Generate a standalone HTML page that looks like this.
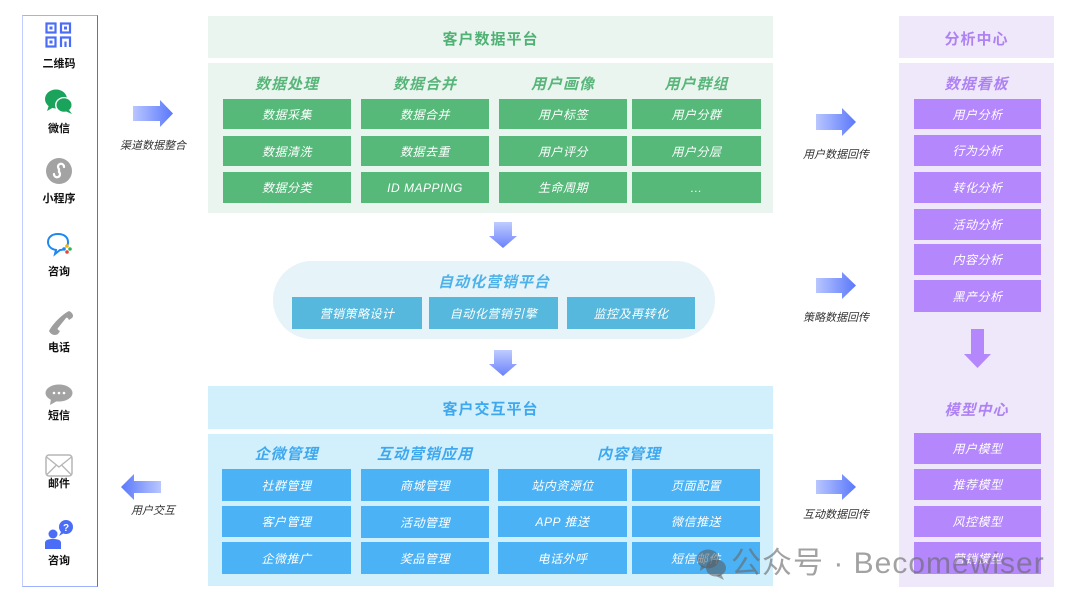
<!DOCTYPE html>
<html><head><meta charset="utf-8">
<style>
*{margin:0;padding:0;box-sizing:border-box}
body{width:1080px;height:607px;background:#fff;position:relative;overflow:hidden;font-family:"Liberation Sans","Noto Sans CJK SC",sans-serif}
.a{position:absolute}
.box{position:absolute;display:flex;align-items:center;justify-content:center;color:#fff;font-size:12px;font-style:italic;letter-spacing:0.5px}
.g{background:#56b97a}
.b{background:#4ab2f5}
.c{background:#56b8dd}
.p{background:#b487fd}
.hd{position:absolute;font-size:15px;font-weight:bold;font-style:italic;text-align:center;letter-spacing:1px}
.lbl{position:absolute;font-size:11px;font-weight:bold;color:#111;width:60px;text-align:center;left:29px}
.alb{position:absolute;font-size:11px;font-style:italic;color:#333;text-align:center;width:100px}
</style></head><body>

<!-- left panel -->
<div class="a" style="left:22px;top:15px;width:76px;height:572px;border:1.5px solid #4d6cff;border-left-color:#c2cdff;border-top-color:#9fb0ff;border-bottom-color:#9fb0ff"></div>

<!-- QR -->
<svg class="a" style="left:45px;top:22px" width="27" height="26" viewBox="0 0 27 26">
<g fill="none" stroke="#4a6cf7" stroke-width="2.2">
<rect x="1.5" y="1.5" width="9" height="9"/><rect x="16" y="1.5" width="9" height="9"/><rect x="1.5" y="15.5" width="9" height="9"/>
<path d="M16 25V15.5H25V25M20.5 19.5V25"/></g>
<g fill="#4a6cf7"><rect x="4.5" y="4.5" width="3" height="3"/><rect x="19" y="4.5" width="3" height="3"/><rect x="4.5" y="18.5" width="3" height="3"/></g>
</svg>
<div class="lbl" style="top:55px">二维码</div>

<!-- WeChat -->
<svg class="a" style="left:45px;top:89px" width="28" height="25" viewBox="0 0 28 25">
<ellipse cx="11" cy="10" rx="11" ry="9.5" fill="#1aa35a"/><path d="M4 16 L2 22 L9 18Z" fill="#1aa35a"/>
<ellipse cx="19" cy="16" rx="9" ry="8" fill="#fff"/>
<ellipse cx="19" cy="16" rx="7.5" ry="6.7" fill="#1aa35a"/><path d="M24 21 L27 25 L20 22Z" fill="#1aa35a"/>
</svg>
<div class="lbl" style="top:120px">微信</div>

<!-- mini program -->
<svg class="a" style="left:46px;top:158px" width="26" height="26" viewBox="0 0 26 26">
<circle cx="13" cy="13" r="13" fill="#a3a3a3"/>
<path d="M8 16 a3 3 0 1 0 5 -2 l0 -3 a3 3 0 1 1 5 -2" fill="none" stroke="#fff" stroke-width="2.2" stroke-linecap="round"/>
</svg>
<div class="lbl" style="top:190px">小程序</div>

<!-- 咨询 chat -->
<svg class="a" style="left:46px;top:232px" width="28" height="25" viewBox="0 0 28 25">
<path d="M12 2 C5 2 2 6 2 10 C2 14 5 17 10 18 L9 22 L14 18 C20 18 22 14 22 10 C22 6 19 2 12 2Z" fill="none" stroke="#1e88f0" stroke-width="2"/>
<path d="M21 14 L24 17 L21 20 L18 17Z" fill="#fff"/>
<circle cx="21" cy="14" r="1.8" fill="#f4b400"/><circle cx="24" cy="17" r="1.8" fill="#2db55d"/><circle cx="21" cy="20" r="1.8" fill="#ea4335"/><circle cx="18" cy="17" r="1.8" fill="#1e88f0"/>
</svg>
<div class="lbl" style="top:263px">咨询</div>

<!-- phone -->
<svg class="a" style="left:47px;top:309px" width="28" height="27" viewBox="0 0 28 27">
<path d="M22 2 C26 4 27 7 25 9 L22 11 C21 9 20 8 19 9 L11 19 C10 20 11 21 13 22 L11 25 C8 27 4 26 2 22 C5 16 14 6 22 2Z" fill="#9e9e9e"/>
</svg>
<div class="lbl" style="top:339px">电话</div>

<!-- sms -->
<svg class="a" style="left:45px;top:384px" width="28" height="22" viewBox="0 0 28 22">
<ellipse cx="14" cy="9" rx="13.5" ry="8.5" fill="#a3a3a3"/><path d="M6 15 L5 21 L12 17Z" fill="#a3a3a3"/>
<circle cx="9" cy="9" r="1.3" fill="#fff"/><circle cx="14" cy="9" r="1.3" fill="#fff"/><circle cx="19" cy="9" r="1.3" fill="#fff"/>
</svg>
<div class="lbl" style="top:407px">短信</div>

<!-- mail -->
<svg class="a" style="left:45px;top:454px" width="28" height="24" viewBox="0 0 28 24">
<rect x="1" y="1" width="26" height="21" rx="3" fill="#fff" stroke="#b5b5b5" stroke-width="1.5"/>
<path d="M1.5 3 L14 13 L26.5 3 M1.5 21 L11 11.5 M26.5 21 L17 11.5" fill="none" stroke="#b5b5b5" stroke-width="1.3"/>
</svg>
<div class="lbl" style="top:475px">邮件</div>

<!-- consult person -->
<svg class="a" style="left:45px;top:519px" width="30" height="30" viewBox="0 0 30 30">
<circle cx="21" cy="8" r="7" fill="#4a6cf7"/><path d="M16 13 L14 17 L19 14Z" fill="#4a6cf7"/>
<text x="21" y="12" font-size="10" font-weight="bold" fill="#fff" text-anchor="middle" font-family="Liberation Sans">?</text>
<circle cx="8" cy="15" r="4.5" fill="#4a6cf7"/><path d="M0 30 L0 24 C0 21 3 20 8 20 C13 20 16 21 16 24 L16 30Z" fill="#4a6cf7"/>
</svg>
<div class="lbl" style="top:552px">咨询</div>

<!-- gradient arrows -->
<svg class="a" style="left:0;top:0" width="1080" height="607">
<defs>
<linearGradient id="gr" x1="0" x2="1" y1="0" y2="0"><stop offset="0" stop-color="#b9c6ff"/><stop offset="1" stop-color="#5a78fb"/></linearGradient>
<linearGradient id="gl" x1="1" x2="0" y1="0" y2="0"><stop offset="0" stop-color="#b9c6ff"/><stop offset="1" stop-color="#5a78fb"/></linearGradient>
<linearGradient id="gd" x1="0" x2="0" y1="0" y2="1"><stop offset="0" stop-color="#c0cbff"/><stop offset="1" stop-color="#6a82fb"/></linearGradient>
</defs>
<polygon points="133,106 160,106 160,100 173,113.5 160,127 160,121 133,121" fill="url(#gr)"/>
<polygon points="161,481 134,481 134,474 121,487 134,500 134,493 161,493" fill="url(#gl)"/>
<polygon points="816,114 842,114 842,108 856,122 842,136 842,130 816,130" fill="url(#gr)"/>
<polygon points="816,278 842,278 842,272 856,285.5 842,299 842,293 816,293" fill="url(#gr)"/>
<polygon points="816,480 842,480 842,474 856,487 842,500 842,494 816,494" fill="url(#gr)"/>
<polygon points="494,222 512,222 512,236 517,236 503,248 489,236 494,236" fill="url(#gd)"/>
<polygon points="494,350 512,350 512,364 517,364 503,376 489,364 494,364" fill="url(#gd)"/>
</svg>
<div class="alb" style="left:103px;top:137px">渠道数据整合</div>
<div class="alb" style="left:103px;top:502px">用户交互</div>
<div class="alb" style="left:786px;top:146px">用户数据回传</div>
<div class="alb" style="left:786px;top:309px">策略数据回传</div>
<div class="alb" style="left:786px;top:506px">互动数据回传</div>

<!-- green platform -->
<div class="a" style="left:208px;top:16px;width:565px;height:42px;background:#ebf5f0"></div>
<div class="hd" style="left:208px;top:28px;width:565px;color:#4fb274;font-style:normal">客户数据平台</div>
<div class="a" style="left:208px;top:63px;width:565px;height:150px;background:#ebf5f0"></div>
<div class="hd" style="left:223px;top:73px;width:128px;color:#58b67a">数据处理</div>
<div class="hd" style="left:361px;top:73px;width:128px;color:#58b67a">数据合并</div>
<div class="hd" style="left:499px;top:73px;width:128px;color:#58b67a">用户画像</div>
<div class="hd" style="left:632px;top:73px;width:129px;color:#58b67a">用户群组</div>
<div class="box g" style="left:223px;top:99px;width:128px;height:30px">数据采集</div>
<div class="box g" style="left:223px;top:136px;width:128px;height:30px">数据清洗</div>
<div class="box g" style="left:223px;top:172px;width:128px;height:31px">数据分类</div>
<div class="box g" style="left:361px;top:99px;width:128px;height:30px">数据合并</div>
<div class="box g" style="left:361px;top:136px;width:128px;height:30px">数据去重</div>
<div class="box g" style="left:361px;top:172px;width:128px;height:31px">ID MAPPING</div>
<div class="box g" style="left:499px;top:99px;width:128px;height:30px">用户标签</div>
<div class="box g" style="left:499px;top:136px;width:128px;height:30px">用户评分</div>
<div class="box g" style="left:499px;top:172px;width:128px;height:31px">生命周期</div>
<div class="box g" style="left:632px;top:99px;width:129px;height:30px">用户分群</div>
<div class="box g" style="left:632px;top:136px;width:129px;height:30px">用户分层</div>
<div class="box g" style="left:632px;top:172px;width:129px;height:31px">...</div>

<!-- automation pill -->
<div class="a" style="left:273px;top:261px;width:442px;height:78px;background:#e6f3f9;border-radius:39px"></div>
<div class="hd" style="left:273px;top:271px;width:442px;color:#4db2ea">自动化营销平台</div>
<div class="box c" style="left:292px;top:297px;width:130px;height:32px">营销策略设计</div>
<div class="box c" style="left:429px;top:297px;width:129px;height:32px">自动化营销引擎</div>
<div class="box c" style="left:567px;top:297px;width:128px;height:32px">监控及再转化</div>

<!-- blue platform -->
<div class="a" style="left:208px;top:386px;width:565px;height:43px;background:#d2effc"></div>
<div class="hd" style="left:208px;top:398px;width:565px;color:#3ea8ee;font-style:normal">客户交互平台</div>
<div class="a" style="left:208px;top:434px;width:565px;height:152px;background:#d2effc"></div>
<div class="hd" style="left:222px;top:443px;width:129px;color:#3ea8ee">企微管理</div>
<div class="hd" style="left:361px;top:443px;width:128px;color:#3ea8ee">互动营销应用</div>
<div class="hd" style="left:498px;top:443px;width:262px;color:#3ea8ee">内容管理</div>
<div class="box b" style="left:222px;top:469px;width:129px;height:32px">社群管理</div>
<div class="box b" style="left:222px;top:506px;width:129px;height:31px">客户管理</div>
<div class="box b" style="left:222px;top:542px;width:129px;height:32px">企微推广</div>
<div class="box b" style="left:361px;top:469px;width:128px;height:32px">商城管理</div>
<div class="box b" style="left:361px;top:506px;width:128px;height:32px">活动管理</div>
<div class="box b" style="left:361px;top:542px;width:128px;height:32px">奖品管理</div>
<div class="box b" style="left:498px;top:469px;width:129px;height:32px">站内资源位</div>
<div class="box b" style="left:498px;top:506px;width:129px;height:31px">APP 推送</div>
<div class="box b" style="left:498px;top:542px;width:129px;height:32px">电话外呼</div>
<div class="box b" style="left:632px;top:469px;width:128px;height:32px">页面配置</div>
<div class="box b" style="left:632px;top:506px;width:128px;height:31px">微信推送</div>
<div class="box b" style="left:632px;top:542px;width:128px;height:32px">短信邮件</div>

<!-- purple -->
<div class="a" style="left:899px;top:16px;width:155px;height:42px;background:#efe8fb"></div>
<div class="hd" style="left:899px;top:28px;width:155px;color:#ae82f3;font-style:normal">分析中心</div>
<div class="a" style="left:899px;top:63px;width:155px;height:524px;background:#efe8fb"></div>
<div class="hd" style="left:899px;top:73px;width:155px;color:#ae82f3">数据看板</div>
<div class="box p" style="left:914px;top:99px;width:127px;height:30px">用户分析</div>
<div class="box p" style="left:914px;top:135px;width:127px;height:31px">行为分析</div>
<div class="box p" style="left:914px;top:172px;width:127px;height:31px">转化分析</div>
<div class="box p" style="left:914px;top:209px;width:127px;height:31px">活动分析</div>
<div class="box p" style="left:914px;top:244px;width:127px;height:31px">内容分析</div>
<div class="box p" style="left:914px;top:280px;width:127px;height:32px">黑产分析</div>
<svg class="a" style="left:964px;top:329px" width="27" height="40" viewBox="0 0 27 40"><polygon points="7,0 20,0 20,25 27,25 13.5,39 0,25 7,25" fill="#b487fd"/></svg>
<div class="hd" style="left:899px;top:399px;width:155px;color:#ae82f3">模型中心</div>
<div class="box p" style="left:914px;top:433px;width:127px;height:31px">用户模型</div>
<div class="box p" style="left:914px;top:469px;width:127px;height:31px">推荐模型</div>
<div class="box p" style="left:914px;top:506px;width:127px;height:31px">风控模型</div>
<div class="box p" style="left:914px;top:542px;width:127px;height:32px">营销模型</div>

<!-- watermark -->
<svg class="a" style="left:696px;top:547px" width="32" height="34" viewBox="0 0 32 34">
<ellipse cx="12" cy="12" rx="11" ry="9.5" fill="rgba(90,90,90,0.55)"/><path d="M5 18 L4 24 L10 20Z" fill="rgba(90,90,90,0.55)"/>
<ellipse cx="20" cy="21" rx="10" ry="8.5" fill="rgba(90,90,90,0.55)"/><path d="M25 27 L28 33 L20 29Z" fill="rgba(90,90,90,0.55)"/>
</svg>
<div class="a" style="left:731px;top:544px;font-size:30px;letter-spacing:1px;color:rgba(105,105,105,0.62);white-space:nowrap;line-height:40px">公众号 · Becomewiser</div>

</body></html>
